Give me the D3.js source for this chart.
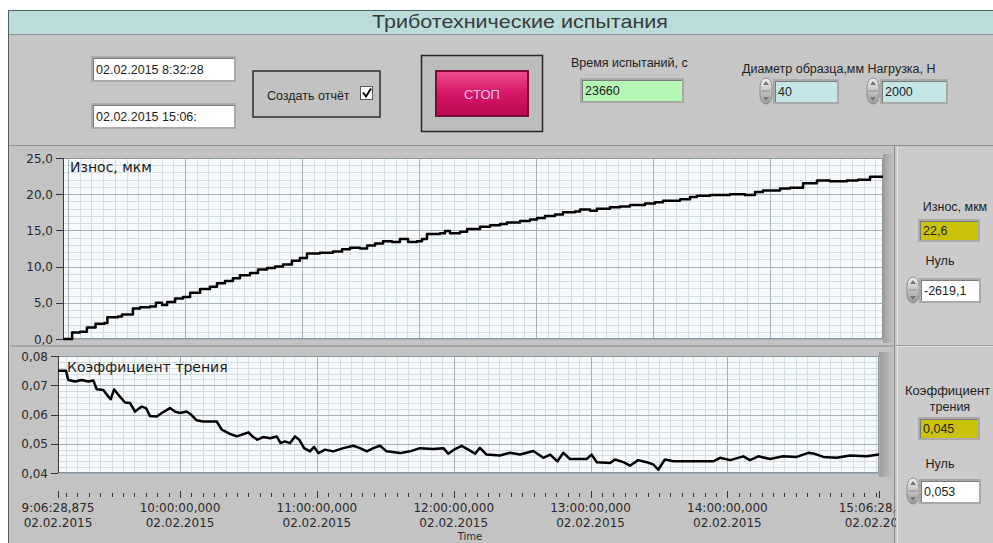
<!DOCTYPE html>
<html>
<head>
<meta charset="utf-8">
<title>Триботехнические испытания</title>
<script src="https://cdn.jsdelivr.net/npm/d3@7"></script>
<style>
  body { margin: 0; background: #fff; }
  svg { display: block; }
  text { font-family: "Liberation Sans", Arial, sans-serif; fill: #1e1e1e; }
  .scale text { font-family: "DejaVu Sans", Verdana, sans-serif; }
</style>
</head>
<body>
<svg id="panel"></svg>
<script>
// ---- data ----
const testDate = "2015-02-02";
const startClock = "9:06:28,875";
const spanMinutes = 360;

// wear, um (minutes from chart start)
const wearMinutes = [0, 2.2, 4.0, 7.5, 10.5, 14.3, 18.2, 19.5, 24.1, 25.9, 30.7, 33.8, 38.2, 40.8, 43.5,
  45.7, 49.2, 52.7, 55.8, 60.2, 64.5, 67.6, 71.1, 74.6, 77.7, 82.1, 85.6, 89.6, 93.1, 96.6,
  100.5, 104.0, 107.1, 112.8, 118.5, 122.5, 126.0, 130.4, 133.5, 137.0, 140.5, 144.4, 147.9, 151.5, 155.4,
  157.6, 159.8, 165.5, 167.7, 169.9, 174.3, 177.4, 183.1, 187.5, 191.9, 194.9, 200.6, 205.0, 208.1, 211.6,
  216.0, 219.5, 224.8, 227.0, 231.4, 234.4, 240.1, 244.5, 248.9, 255.5, 259.9, 263.4, 270.9, 275.3, 278.3,
  284.0, 292.8, 299.4, 303.8, 307.3, 314.8, 319.2, 324.9, 331.0, 336.7, 344.2, 349.0, 354.3, 360];
const wearValues = [0.0, 0.0, 0.9, 1.0, 1.6, 2.1, 2.2, 3.0, 3.1, 3.4, 4.2, 4.4, 4.5, 5.0, 4.7,
  5.1, 5.6, 5.8, 6.4, 6.9, 7.2, 7.7, 8.0, 8.4, 8.8, 9.1, 9.6, 9.8, 10.0, 10.3,
  10.8, 11.2, 11.8, 11.9, 12.1, 12.4, 12.6, 12.5, 12.9, 13.2, 13.5, 13.4, 13.8, 13.4, 13.5,
  13.8, 14.5, 14.6, 14.9, 14.6, 14.8, 15.2, 15.5, 15.7, 15.9, 16.1, 16.3, 16.5, 16.7, 17.0,
  17.2, 17.5, 17.6, 17.9, 17.7, 18.0, 18.2, 18.3, 18.5, 18.7, 18.9, 19.1, 19.3, 19.6, 19.8,
  19.9, 20.0, 19.9, 20.3, 20.5, 20.8, 20.9, 21.5, 21.9, 21.8, 21.9, 22.0, 22.4, 22.6];

// friction coefficient
const frictionMinutes = [0, 3.5, 4.5, 7.5, 10.4, 13.3, 15.5, 17.0, 19.9, 22.1, 23.1, 24.6, 26.5, 29.4, 31.6,
  33.8, 36.7, 38.6, 40.3, 43.3, 45.5, 49.1, 51.3, 53.5, 56.4, 58.6, 60.8, 63.7, 69.6, 71.8,
  75.4, 78.4, 81.3, 83.5, 85.6, 87.4, 90.0, 93.0, 95.9, 97.6, 99.5, 101.7, 103.9, 105.8, 107.9,
  110.5, 112.3, 114.2, 117.1, 120.7, 125.1, 129.5, 132.4, 135.4, 138.3, 141.2, 144.1, 150.0, 154.4,
  158.7, 164.6, 169.0, 171.1, 174.1, 177.0, 179.9, 182.9, 185.0, 187.9, 193.8, 198.2, 202.6, 208.4,
  212.8, 215.8, 219.0, 221.6, 224.5, 231.8, 234.0, 236.2, 242.1, 244.2, 247.9, 250.8, 254.4, 258.1,
  261.1, 263.2, 266.1, 269.8, 275.6, 287.3, 290.3, 294.7, 300.5, 303.4, 307.1, 312.2, 318.0, 323.9,
  329.0, 331.2, 335.6, 341.4, 347.3, 354.6, 360];
const frictionValues = [0.0750, 0.0750, 0.0718, 0.0713, 0.0718, 0.0713, 0.0716, 0.0686, 0.0684, 0.0661, 0.0652, 0.0686, 0.0667, 0.0641, 0.0639,
  0.0610, 0.0627, 0.0622, 0.0595, 0.0593, 0.0605, 0.0622, 0.0610, 0.0605, 0.0610, 0.0598, 0.0580, 0.0576, 0.0576, 0.0548,
  0.0534, 0.0525, 0.0533, 0.0539, 0.0523, 0.0514, 0.0523, 0.0519, 0.0525, 0.0502, 0.0508, 0.0502, 0.0525, 0.0514, 0.0485,
  0.0474, 0.0489, 0.0468, 0.0480, 0.0474, 0.0485, 0.0493, 0.0485, 0.0474, 0.0485, 0.0493, 0.0474, 0.0468, 0.0474,
  0.0485, 0.0482, 0.0485, 0.0466, 0.0482, 0.0493, 0.0480, 0.0466, 0.0486, 0.0463, 0.0460, 0.0469, 0.0463, 0.0475,
  0.0452, 0.0463, 0.0440, 0.0469, 0.0448, 0.0448, 0.0463, 0.0437, 0.0434, 0.0446, 0.0437, 0.0425, 0.0444, 0.0437,
  0.0429, 0.0411, 0.0446, 0.0440, 0.0440, 0.0440, 0.0452, 0.0444, 0.0457, 0.0444, 0.0457, 0.0448, 0.0457, 0.0455,
  0.0469, 0.0467, 0.0455, 0.0452, 0.0460, 0.0457, 0.0463];

// scale ticks
const wearTicks = [0, 5, 10, 15, 20, 25];
const frictionTicks = [0.04, 0.05, 0.06, 0.07, 0.08];
const timeTickLabels = ["9:06:28,875", "10:00:00,000", "11:00:00,000", "12:00:00,000",
  "13:00:00,000", "14:00:00,000", "15:06:28,875"];

// front panel controls
const startStamp = "02.02.2015  8:32:28";
const stopStamp = "02.02.2015  15:06:";
const testSeconds = "23660";
const sampleDiameter = "40";
const loadNewton = "2000";
const wearNow = "22,6";
const wearZero = "-2619,1";
const frictionNow = "0,045";
const frictionZero = "0,053";

// ---- helpers ----
const parseClock = d3.timeParse("%Y-%m-%d %H:%M:%S.%L");
const toDate = clock => parseClock(testDate + " " + clock.replace(",", "."));
const t0 = toDate(startClock);
const atMinute = m => new Date(t0.getTime() + m * 60000);
const t1 = atMinute(spanMinutes);
const comma = f => v => d3.format(f)(v).replace(".", ",");

const svg = d3.select("#panel").attr("width", 993).attr("height", 543);
const defs = svg.append("defs");

function vGrad(id, stops) {
  const g = defs.append("linearGradient").attr("id", id)
    .attr("x1", 0).attr("y1", 0).attr("x2", 0).attr("y2", 1);
  stops.forEach((c, i) => g.append("stop").attr("offset", i / (stops.length - 1)).attr("stop-color", c));
}
vGrad("stopGrad", ["#ec4d92", "#d61567", "#b80a52"]);
vGrad("spinGrad", ["#f2f2f2", "#c4c4c4", "#9a9a9a"]);
const hg = defs.append("linearGradient").attr("id", "shadeGrad");
hg.append("stop").attr("offset", 0).attr("stop-color", "#9c9c9c");
hg.append("stop").attr("offset", 1).attr("stop-color", "#c4c4c4");

function inputBox(x, y, w, h, fill, label, size) {
  svg.append("rect").attr("x", x - 2).attr("y", y - 2).attr("width", w + 4).attr("height", h + 4)
    .attr("fill", "#a9a9a9");
  svg.append("rect").attr("x", x).attr("y", y).attr("width", w).attr("height", h).attr("fill", fill);
  svg.append("line").attr("x1", x).attr("x2", x + w).attr("y1", y + 0.5).attr("y2", y + 0.5)
    .attr("stroke", "#7c7c7c");
  svg.append("line").attr("x1", x + 0.5).attr("x2", x + 0.5).attr("y1", y).attr("y2", y + h)
    .attr("stroke", "#7c7c7c");
  svg.append("text").attr("x", x + 3).attr("y", y + h / 2 + 4.5)
    .style("font-size", (size || 12.5) + "px").text(label);
}

function spinner(x, y, h) {
  svg.append("rect").attr("x", x).attr("y", y).attr("width", 12).attr("height", h)
    .attr("rx", 6).attr("ry", 9).attr("fill", "url(#spinGrad)").attr("stroke", "#8a8a8a");
  svg.append("line").attr("x1", x + 2).attr("x2", x + 10).attr("y1", y + h / 2).attr("y2", y + h / 2)
    .attr("stroke", "#8a8a8a");
  svg.append("path").attr("d", `M${x + 6},${y + 3}l3,4h-6z M${x + 6},${y + h - 3}l3,-4h-6z`)
    .attr("fill", "#777");
}

function label(x, y, txt, size, anchor) {
  return svg.append("text").attr("x", x).attr("y", y).attr("text-anchor", anchor || "start")
    .style("font-size", (size || 12.5) + "px").text(txt);
}

// ---- frame, title bar, control strip ----
svg.append("rect").attr("x", 8.5).attr("y", 10.5).attr("width", 990).attr("height", 540)
  .attr("fill", "#c6c6c6").attr("stroke", "#4f5e5e");
svg.append("rect").attr("x", 9).attr("y", 11).attr("width", 990).attr("height", 23).attr("fill", "#bcdcdc");
svg.append("line").attr("x1", 9).attr("x2", 993).attr("y1", 34.5).attr("y2", 34.5).attr("stroke", "#849a9a");
label(520, 28, "Триботехнические испытания", 19, "middle")
  .attr("textLength", 296).attr("lengthAdjust", "spacingAndGlyphs").style("fill", "#3a3a3a");

svg.append("line").attr("x1", 9).attr("x2", 993).attr("y1", 145.5).attr("y2", 145.5).attr("stroke", "#8e8e8e");

inputBox(93, 58, 141, 22, "#fff", startStamp);
inputBox(93, 105, 141, 22, "#fff", stopStamp);

// report checkbox cluster
svg.append("rect").attr("x", 253).attr("y", 71).attr("width", 127).attr("height", 46)
  .attr("fill", "#c2c2c2").attr("stroke", "#2e2e2e").attr("stroke-width", 1.5);
label(267, 100, "Создать отчёт", 12.5);
svg.append("rect").attr("x", 360.5).attr("y", 86.5).attr("width", 12).attr("height", 13)
  .attr("fill", "#fff").attr("stroke", "#555");
svg.append("path").attr("d", "M363,92.5l3,4l5,-8").attr("fill", "none")
  .attr("stroke", "#111").attr("stroke-width", 2);

// stop button
svg.append("rect").attr("x", 421.5).attr("y", 55.5).attr("width", 121).attr("height", 76)
  .attr("fill", "#bdbdbd").attr("stroke", "#262626").attr("stroke-width", 1.5);
svg.append("rect").attr("x", 436).attr("y", 71).attr("width", 92).attr("height", 45)
  .attr("fill", "url(#stopGrad)").attr("stroke", "#7a0b38").attr("stroke-width", 2);
label(482, 99, "СТОП", 13, "middle").style("fill", "#f6c4e2");

// test time
label(571, 67, "Время испытаний, с", 12.5);
inputBox(582, 80, 100, 21, "#b5f7b5", testSeconds);

// sample parameters
label(742, 73, "Диаметр образца,мм Нагрузка, Н", 12.5);
spinner(760, 78, 26);
inputBox(775, 81, 62, 21, "#c4e6e6", sampleDiameter);
spinner(867, 78, 26);
inputBox(882, 81, 64, 21, "#c4e6e6", loadNewton);

// ---- chart area panels ----
svg.append("rect").attr("x", 10).attr("y", 147).attr("width", 884).attr("height", 198).attr("fill", "#c3c3c3");
svg.append("rect").attr("x", 10).attr("y", 347).attr("width", 884).attr("height", 196).attr("fill", "#c3c3c3");
svg.append("line").attr("x1", 10).attr("x2", 894).attr("y1", 346).attr("y2", 346).attr("stroke", "#8e8e8e");

const xMinor = d3.timeMinute.every(5).range(t0, new Date(t1.getTime() + 1));
const xMajor = timeTickLabels.map(toDate);

function drawChart(o) {
  const g = svg.append("g").attr("class", "scale");
  const [x0, x1] = o.x.range();
  const [y1, y0] = o.y.range();
  g.append("rect").attr("x", x1).attr("y", y0 - 4).attr("width", 894 - x1).attr("height", y1 - y0 + 8)
    .attr("fill", "url(#shadeGrad)");
  g.append("rect").attr("x", x0).attr("y", y0).attr("width", x1 - x0).attr("height", y1 - y0)
    .attr("fill", "#f6fafa");

  // grid
  g.append("g").selectAll("line").data(o.vMinor).join("line")
    .attr("x1", d => Math.round(o.gx(d)) + 0.5).attr("x2", d => Math.round(o.gx(d)) + 0.5)
    .attr("y1", y0).attr("y2", y1).attr("stroke", "#d2dee3");
  g.append("g").selectAll("line").data(o.hMinor).join("line")
    .attr("y1", d => Math.round(o.y(d)) + 0.5).attr("y2", d => Math.round(o.y(d)) + 0.5)
    .attr("x1", x0).attr("x2", x1).attr("stroke", "#d2dee3");
  g.append("g").selectAll("line").data(o.vMajor).join("line")
    .attr("x1", d => Math.round(o.gx(d)) + 0.5).attr("x2", d => Math.round(o.gx(d)) + 0.5)
    .attr("y1", y0).attr("y2", y1).attr("stroke", "#a7b1b8");
  g.append("g").selectAll("line").data(o.ticks).join("line")
    .attr("y1", d => Math.round(o.y(d)) + 0.5).attr("y2", d => Math.round(o.y(d)) + 0.5)
    .attr("x1", x0).attr("x2", x1).attr("stroke", "#a7b1b8");
  g.append("rect").attr("x", x0 + 0.5).attr("y", y0 + 0.5).attr("width", x1 - x0 - 1).attr("height", y1 - y0 - 1)
    .attr("fill", "none").attr("stroke", "#8d969c");
  g.append("line").attr("x1", x0 + 0.5).attr("x2", x0 + 0.5).attr("y1", y0).attr("y2", y1)
    .attr("stroke", "#3a3a3a");

  // y scale
  g.append("g").selectAll("line").data(o.ticks).join("line")
    .attr("x1", x0 - 7).attr("x2", x0).attr("y1", d => Math.round(o.y(d)) + 0.5)
    .attr("y2", d => Math.round(o.y(d)) + 0.5).attr("stroke", "#333");
  g.append("g").selectAll("text").data(o.ticks).join("text")
    .attr("x", x0 - 10).attr("y", d => o.y(d) + 4.5).attr("text-anchor", "end")
    .style("font-size", "12px").style("fill", "#2a2a2a").text(o.fmt);

  // trace
  const clipId = "clip" + o.name;
  defs.append("clipPath").attr("id", clipId).append("rect")
    .attr("x", x0).attr("y", y0 - 2).attr("width", x1 - x0).attr("height", y1 - y0 + 4);
  const line = d3.line().x(d => o.x(d[0])).y(d => o.y(d[1])).curve(o.curve);
  g.append("path").datum(d3.zip(o.minutes.map(atMinute), o.values))
    .attr("clip-path", `url(#${clipId})`)
    .attr("d", line).attr("fill", "none").attr("stroke", "#000")
    .attr("stroke-width", 2.5).attr("stroke-linejoin", "round");

  g.append("text").attr("x", x0 + o.titleDx).attr("y", y0 + o.titleDy)
    .style("font-size", o.titleSize + "px").style("fill", "#1a1a1a").text(o.title);
  return g;
}

// wear chart (its time grid runs on the chart's own sample divisions)
const xWear = d3.scaleTime().domain([t0, t1]).range([63, 883]);
const wearGrid = d3.scaleLinear().domain([0, 70]).range([68, 887]);
drawChart({
  name: "Wear", x: xWear, y: d3.scaleLinear().domain([0, 25]).range([339, 158]),
  gx: wearGrid, vMinor: d3.range(0, 71), vMajor: d3.range(0, 71, 10),
  hMinor: d3.range(0, 26), ticks: wearTicks, fmt: comma(".1f"),
  minutes: wearMinutes, values: wearValues, curve: d3.curveStepAfter,
  title: "Износ, мкм", titleDx: 7, titleDy: 14, titleSize: 14
});

// friction chart
const xFriction = d3.scaleTime().domain([t0, t1]).range([58, 879]);
drawChart({
  name: "Friction", x: xFriction, y: d3.scaleLinear().domain([0.04, 0.08]).range([473, 356]),
  gx: xFriction, vMinor: xMinor, vMajor: xMajor,
  hMinor: d3.range(21).map(i => 0.04 + i * 0.002), ticks: frictionTicks, fmt: comma(".2f"),
  minutes: frictionMinutes, values: frictionValues, curve: d3.curveLinear,
  title: "Коэффициент трения", titleDx: 9, titleDy: 16, titleSize: 14
});

// time scale under the friction chart
const ax = svg.append("g").attr("class", "scale");
ax.selectAll(".minor").data(xMinor).join("line").attr("class", "minor")
  .attr("x1", d => Math.round(xFriction(d)) + 0.5).attr("x2", d => Math.round(xFriction(d)) + 0.5)
  .attr("y1", 493).attr("y2", 497).attr("stroke", "#333");
ax.selectAll(".major").data(xMajor).join("line").attr("class", "major")
  .attr("x1", d => Math.round(xFriction(d)) + 0.5).attr("x2", d => Math.round(xFriction(d)) + 0.5)
  .attr("y1", 491).attr("y2", 498).attr("stroke", "#333");
const dayFmt = d3.timeFormat("%d.%m.%Y");
ax.selectAll(".tl").data(xMajor).join("text").attr("class", "tl")
  .attr("x", d => xFriction(d)).attr("y", 512).attr("text-anchor", "middle")
  .style("font-size", "12px").style("fill", "#2a2a2a").text((d, i) => timeTickLabels[i]);
ax.selectAll(".dl").data(xMajor).join("text").attr("class", "dl")
  .attr("x", d => xFriction(d)).attr("y", 527).attr("text-anchor", "middle")
  .style("font-size", "12px").style("fill", "#2a2a2a").text(d => dayFmt(d));
ax.append("text").attr("x", 470).attr("y", 540).attr("text-anchor", "middle")
  .style("font-size", "10px").style("fill", "#2a2a2a").text("Time");

// ---- right indicator column ----
svg.append("rect").attr("x", 896).attr("y", 147).attr("width", 97).attr("height", 396).attr("fill", "#cbcbcb");
svg.append("line").attr("x1", 894.5).attr("x2", 894.5).attr("y1", 146).attr("y2", 543).attr("stroke", "#8a8a8a");
svg.append("line").attr("x1", 897.5).attr("x2", 897.5).attr("y1", 147).attr("y2", 543).attr("stroke", "#e6e6e6");
svg.append("line").attr("x1", 896).attr("x2", 993).attr("y1", 345.5).attr("y2", 345.5).attr("stroke", "#9a9a9a");
svg.append("line").attr("x1", 896).attr("x2", 993).attr("y1", 346.5).attr("y2", 346.5).attr("stroke", "#e2e2e2");

label(955, 211, "Износ, мкм", 12.5, "middle");
inputBox(920, 221, 58, 19, "#c9c30c", wearNow);
label(940, 265, "Нуль", 12.5, "middle");
spinner(907, 277, 26);
inputBox(921, 280, 58, 21, "#fff", wearZero);

label(905, 395, "Коэффициент", 13, "start");
label(950, 411, "трения", 12.5, "middle");
inputBox(920, 419, 58, 19, "#c9c30c", frictionNow);
label(940, 468, "Нуль", 12.5, "middle");
spinner(907, 478, 26);
inputBox(921, 481, 58, 21, "#fff", frictionZero);
</script>
</body>
</html>
